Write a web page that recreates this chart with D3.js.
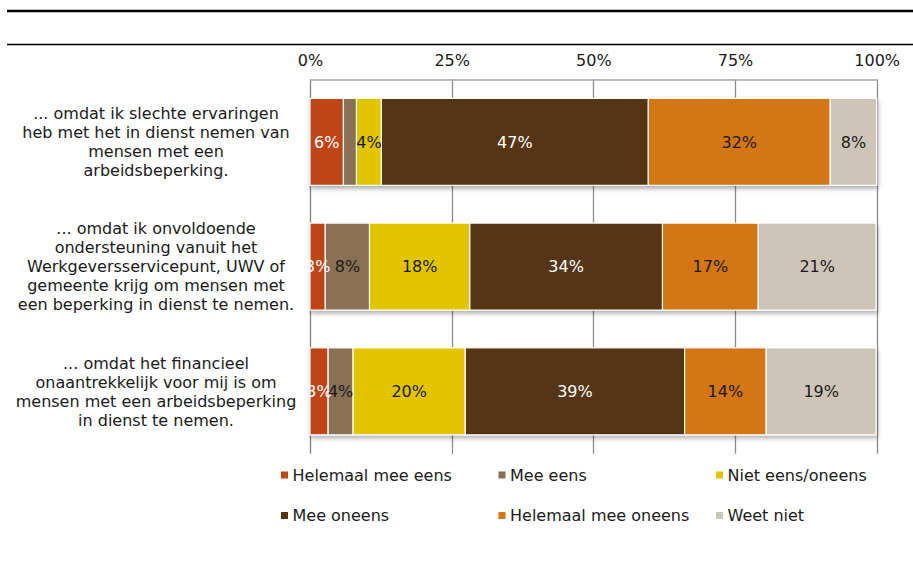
<!DOCTYPE html>
<html>
<head>
<meta charset="utf-8">
<script src="https://cdn.jsdelivr.net/npm/d3@7"></script>
<style>
  html, body { margin: 0; padding: 0; background: #fff; }
  svg { display: block; font-family: "DejaVu Sans", Verdana, sans-serif; }
</style>
</head>
<body>
<svg id="chart" width="913" height="561"></svg>
<script>
// ---- data ----
const categories = [
  ["... omdat ik slechte ervaringen", "heb met het in dienst nemen van", "mensen met een", "arbeidsbeperking."],
  ["... omdat ik onvoldoende", "ondersteuning vanuit het", "Werkgeversservicepunt, UWV of", "gemeente krijg om mensen met", "een beperking in dienst te nemen."],
  ["... omdat het financieel", "onaantrekkelijk voor mij is om", "mensen met een arbeidsbeperking", "in dienst te nemen."]
];
const seriesNames = ["Helemaal mee eens", "Mee eens", "Niet eens/oneens", "Mee oneens", "Helemaal mee oneens", "Weet niet"];
const helemaalMeeEens   = [5.9, 2.7, 3.2];
const meeEens           = [2.3, 7.8, 4.4];
const nietEensOneens    = [4.4, 17.7, 19.8];
const meeOneens         = [47.1, 34.0, 38.7];
const helemaalMeeOneens = [32.1, 16.9, 14.4];
const weetNiet          = [8.2, 20.8, 19.4];
const tickValues = [0, 25, 50, 75, 100];

const seriesValues = [helemaalMeeEens, meeEens, nietEensOneens, meeOneens, helemaalMeeOneens, weetNiet];
const colors = ["#BE4516", "#8A6F55", "#E2C400", "#573613", "#D47519", "#CEC5B8"];
const labelColors = ["#ffffff", "#1a1a1a", "#1a1a1a", "#ffffff", "#1a1a1a", "#1a1a1a"];

const svg = d3.select("#chart");

// drop shadow filter
const defs = svg.append("defs");
const f = defs.append("filter").attr("id", "shadow").attr("x", "-5%").attr("y", "-10%").attr("width", "110%").attr("height", "130%");
f.append("feDropShadow").attr("dx", 1).attr("dy", 3).attr("stdDeviation", 2)
  .attr("flood-color", "#000").attr("flood-opacity", 0.3);

// decorative header lines
svg.append("line").attr("x1", 7).attr("x2", 913).attr("y1", 11).attr("y2", 11)
  .attr("stroke", "#000").attr("stroke-width", 2.5);
svg.append("line").attr("x1", 7).attr("x2", 913).attr("y1", 44.5).attr("y2", 44.5)
  .attr("stroke", "#000").attr("stroke-width", 1.3);

const plotTop = 79.5, plotBottom = 453.7;
const x = d3.scaleLinear().domain([0, 100]).range([310, 876.7]);
const y = d3.scaleBand().domain(d3.range(categories.length)).range([plotTop, plotBottom])
  .paddingInner(0.3026).paddingOuter(0.1513);

// gridlines
svg.append("g").selectAll("line").data(tickValues).join("line")
  .attr("x1", d => Math.round(x(d)) + 0.5).attr("x2", d => Math.round(x(d)) + 0.5)
  .attr("y1", plotTop).attr("y2", plotBottom)
  .attr("stroke", d => (d === 0 ? "#7f7f7f" : "#8c8c8c")).attr("stroke-width", 1.3);
// top axis line
svg.append("line").attr("x1", x(0)).attr("x2", x(100) + 1).attr("y1", plotTop + 0.5).attr("y2", plotTop + 0.5)
  .attr("stroke", "#a6a6a6").attr("stroke-width", 1.3);

// axis labels
const xAxis = d3.axisTop(x).tickValues(tickValues).tickFormat(d => d + "%").tickSize(0).tickPadding(0);
const ax = svg.append("g").attr("transform", "translate(0,66)").call(xAxis);
ax.select(".domain").remove();
ax.selectAll("text").attr("font-size", 16).attr("fill", "#1a1a1a")
  .attr("font-family", "DejaVu Sans, Verdana, sans-serif");

// stacked data
const stackData = categories.map((c, i) => {
  let acc = 0;
  return seriesValues.map((vals, s) => {
    const v = vals[i];
    const seg = { cat: i, s, v, x0: acc, x1: acc + v };
    acc += v;
    return seg;
  });
});

const rows = svg.append("g").selectAll("g.row").data(stackData).join("g")
  .attr("class", "row").attr("filter", "url(#shadow)");
rows.selectAll("rect").data(d => d).join("rect")
  .attr("x", d => x(d.x0)).attr("width", d => x(d.x1) - x(d.x0))
  .attr("y", d => y(d.cat)).attr("height", y.bandwidth())
  .attr("fill", d => colors[d.s]).attr("stroke", "#ffffff").attr("stroke-width", 1.2);

// value labels
const labels = svg.append("g");
stackData.forEach(row => {
  labels.selectAll(null).data(row.filter(d => d.v >= 2.5)).join("text")
    .attr("x", d => (x(d.x0) + x(d.x1)) / 2)
    .attr("y", d => y(d.cat) + y.bandwidth() / 2)
    .attr("dy", "0.36em")
    .attr("text-anchor", "middle")
    .attr("font-size", 16)
    .attr("fill", d => labelColors[d.s])
    .text(d => Math.round(d.v) + "%");
});

// category labels
const lineH = 19;
const catG = svg.append("g");
categories.forEach((lines, i) => {
  const cy = y(i) + y.bandwidth() / 2;
  const startY = cy - (lines.length - 1) * lineH / 2;
  catG.append("text")
    .attr("text-anchor", "middle").attr("font-size", 16).attr("fill", "#1a1a1a")
    .selectAll("tspan").data(lines).join("tspan")
    .attr("x", 156).attr("y", (d, k) => startY + k * lineH).attr("dy", "0.36em")
    .text(d => d);
});

// legend
const legendX = [281, 498.5, 716];
const legendY = [475, 515.5];
const leg = svg.append("g");
seriesNames.forEach((name, i) => {
  const col = i % 3, row = Math.floor(i / 3);
  const g = leg.append("g").attr("transform", `translate(${legendX[col]},${legendY[row]})`);
  g.append("rect").attr("x", 0).attr("y", -3.5).attr("width", 7).attr("height", 7).attr("fill", colors[i]);
  g.append("text").attr("x", 11.5).attr("y", 0).attr("dy", "0.36em")
    .attr("font-size", 16).attr("fill", "#1a1a1a").text(name);
});
</script>
</body>
</html>
